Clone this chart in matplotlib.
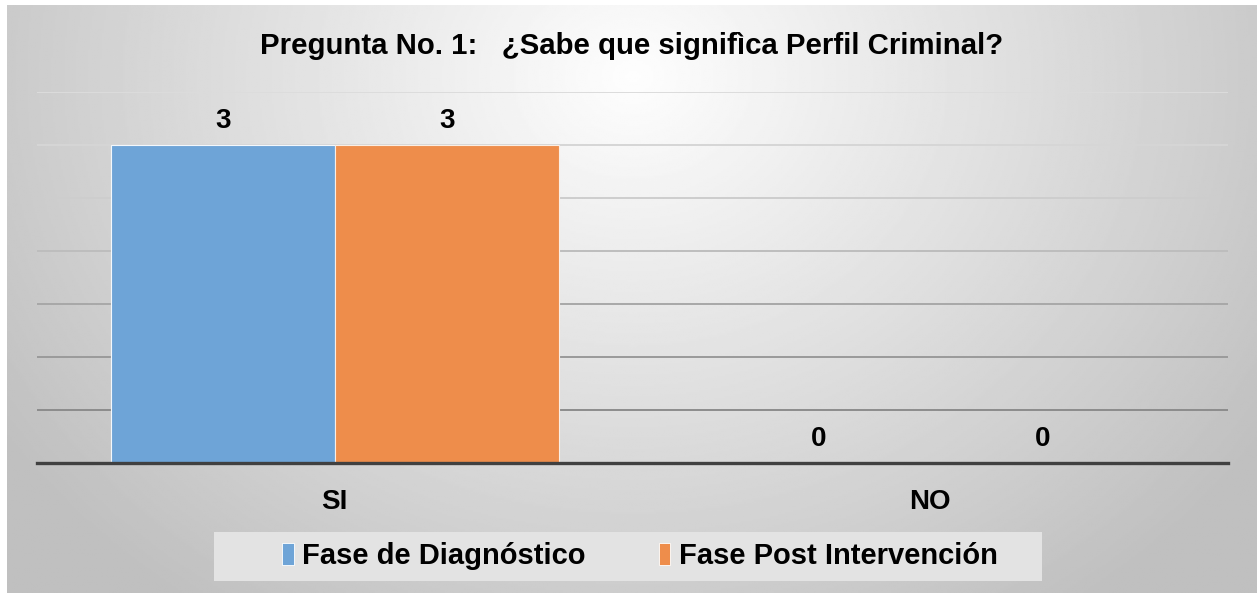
import numpy as np
import matplotlib.pyplot as plt
from matplotlib.patches import Patch, Rectangle

# Data
categories = ["SI", "NO"]
series_names = ["Fase de Diagnóstico", "Fase Post Intervención"]
diagnostico = [3, 0]
post_intervencion = [3, 0]
title = "Pregunta No. 1:   ¿Sabe que signifìca Perfil Criminal?"

blue = "#6ea4d7"
orange = "#ee8d4b"

plt.rcParams['font.family'] = ['Liberation Sans', 'DejaVu Sans']

fig = plt.figure(figsize=(12.57, 5.93), dpi=100)
fig.patch.set_facecolor("white")

# Background gradient panel
bg = fig.add_axes([7 / 1257, 0, 1250 / 1257, 588 / 593])
bg.set_axis_off()
h, w = 300, 640
yy, xx = np.mgrid[0:h, 0:w]
dx = (xx / w - 0.5) / 0.5
dy = (yy / h) * 1.0 - 0.12
r = np.sqrt(dx ** 2 + (dy * 1.1) ** 2)
val = np.clip(0.995 - 0.2 * r, 0.75, 1.0)
bg.imshow(val, cmap="gray", vmin=0, vmax=1, aspect="auto", extent=[0, 1, 1, 0])
bg.set_xlim(0, 1)
bg.set_ylim(1, 0)

ax = fig.add_axes([37 / 1257, 1 - 463 / 593, (1228 - 37) / 1257, (463 - 92) / 593])
ax.patch.set_alpha(0)

x = np.arange(len(categories))
width = 0.376
b1 = ax.bar(x - width / 2, diagnostico, width, color=blue, edgecolor="#f4f8fc", linewidth=0.8, zorder=3)
b2 = ax.bar(x + width / 2, post_intervencion, width, color=orange, edgecolor="#fbeee4", linewidth=0.8, zorder=3)

ax.set_xlim(-0.5, 1.5)
ax.set_ylim(0, 3.5)

# gridlines get darker toward the bottom
grid_levels = np.arange(0.5, 3.51, 0.5)
grid_colors = ["#8c8c8c", "#9a9a9a", "#a8a8a8", "#bdbdbd", "#cdcdcd", "#d6d6d6", "#dcdcdc"]
for lvl, c in zip(grid_levels, grid_colors):
    ax.axhline(lvl, color=c, linewidth=1.4, zorder=1)
ax.axhline(0, color="#404040", linewidth=2.4, zorder=4, clip_on=False)

for s in ax.spines.values():
    s.set_visible(False)
ax.set_yticks([])
ax.set_xticks(x)
ax.set_xticklabels(categories, fontsize=20, fontweight="bold")
ax.tick_params(axis="x", length=0, pad=19)

for bars in (b1, b2):
    for rect in bars:
        ax.annotate(str(int(rect.get_height())),
                    (rect.get_x() + rect.get_width() / 2, rect.get_height()),
                    xytext=(0, 8), textcoords="offset points",
                    ha="center", va="bottom", fontsize=20, fontweight="bold")

fig.text(632 / 1257, 1 - 46 / 593, title, ha="center", va="center",
         fontsize=21.2, fontweight="bold")

# legend background box
fig.patches.append(Rectangle((214 / 1257, 1 - 581 / 593), (1042 - 214) / 1257, 49 / 593,
                             transform=fig.transFigure, facecolor="#e3e3e3",
                             edgecolor="none", zorder=1))

handles = [Patch(facecolor=blue, edgecolor="white", linewidth=0.6),
           Patch(facecolor=orange, edgecolor="white", linewidth=0.6)]
leg = fig.legend(handles, series_names, loc="center",
                 bbox_to_anchor=(640 / 1257, 1 - 556 / 593), ncol=2,
                 prop={"size": 21, "weight": "bold"}, frameon=False,
                 handlelength=0.4, handleheight=0.8,
                 handletextpad=0.3, columnspacing=2.5, borderpad=0.3)
leg.set_zorder(5)

fig.savefig("out.png", dpi=100, facecolor=fig.get_facecolor())
